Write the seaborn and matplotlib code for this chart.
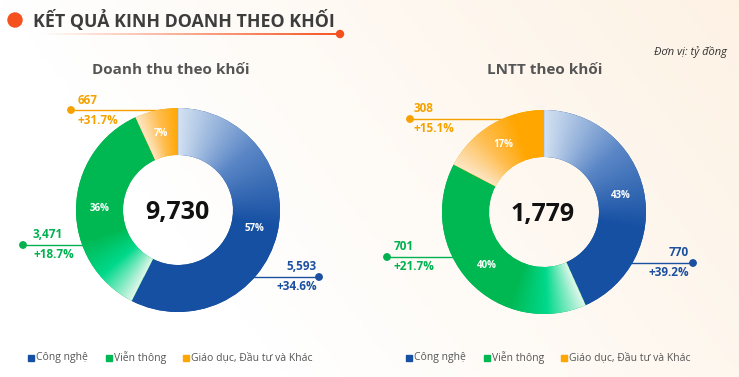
import numpy as np
import matplotlib.pyplot as plt
from matplotlib.patches import Circle, Rectangle
from matplotlib.collections import LineCollection
import seaborn as sns

# data
categories = ["Công nghệ", "Viễn thông", "Giáo dục, Đầu tư và Khác"]
revenue = [5593, 3471, 667]
revenue_share = ["57%", "36%", "7%"]
revenue_growth = ["+34.6%", "+18.7%", "+31.7%"]
revenue_total = 9730
profit = [770, 701, 308]
profit_share = ["43%", "40%", "17%"]
profit_growth = ["+39.2%", "+21.7%", "+15.1%"]
profit_total = 1779

W, H = 739, 377
BLUE, GREEN, ORANGE = "#1a4fa3", "#00b450", "#ffa600"
text_colors = ["#1b4fa0", "#00b14f", "#f5a200"]
grad_stops = [["#d4e2f2", "#5a86c6", "#1650a3"],
              ["#e2f7ec", "#00d98b", "#00b852"],
              ["#fde6c6", "#ffbe52", "#ffa600"]]

sns.set_theme(style="white")
plt.rcParams["font.family"] = ["Open Sans", "DejaVu Sans"]

fig = plt.figure(figsize=(W / 100, H / 100), dpi=100)
ax = fig.add_axes([0, 0, 1, 1])
ax.set_xlim(0, W)
ax.set_ylim(0, H)
ax.axis("off")


def Y(y):
    return H - y


# soft warm background
gx, gy = np.meshgrid(np.linspace(0, 1, 200), np.linspace(1, 0, 100))
w = np.clip(gx * 0.9 + gy * 0.35 - 0.35, 0, 1) * 0.85
bg = np.ones((100, 200, 3))
warm = np.array([253, 238, 220]) / 255
bg = bg * (1 - w[..., None]) + warm * w[..., None]
ax.imshow(bg, extent=[0, W, 0, H], aspect="auto", zorder=0)

# header
ax.add_patch(Circle((15, Y(20)), 7, color="#f4511e", zorder=3))
ax.text(33, Y(20), "KẾT QUẢ KINH DOANH THEO KHỐI", fontsize=12.8, fontweight="bold",
        color="#3d3d3d", va="center", ha="left", zorder=3)
xs = np.linspace(40, 340, 80)
segs = [[(xs[i], Y(34)), (xs[i + 1], Y(34))] for i in range(len(xs) - 1)]
alphas = np.linspace(0.0, 1.0, len(segs))
lc = LineCollection(segs, colors=[(0.96, 0.32, 0.12, a) for a in alphas], linewidths=1.4, zorder=3)
ax.add_collection(lc)
ax.add_patch(Circle((340, Y(34)), 3.5, color="#f4511e", zorder=3))
ax.text(727, Y(52), "Đơn vị: tỷ đồng", fontsize=8, style="italic", color="#333333",
        ha="right", va="center")


def shade_wedge(wedge, stops, ramp):
    cx, cy = wedge.center
    r = wedge.r
    n = 300
    gxs, gys = np.meshgrid(np.linspace(cx - r, cx + r, n), np.linspace(cy - r, cy + r, n))
    ang = (90 - np.degrees(np.arctan2(gys - cy, gxs - cx))) % 360
    start = (90 - wedge.theta2) % 360
    t = np.clip(((ang - start) % 360) / ramp, 0, 1)
    cmap = sns.blend_palette(stops, as_cmap=True)
    im = ax.imshow(cmap(t), extent=[cx - r, cx + r, cy - r, cy + r], origin="lower",
                   aspect="auto", zorder=2, interpolation="bilinear")
    im.set_clip_path(wedge)


def donut(values, shares, growth, total, title, center, title_x, ramps, notes):
    cx, cy = center
    R, r = 102, 55
    wedges, _ = ax.pie(values, startangle=90, counterclock=False, center=(cx, Y(cy)),
                       radius=R, colors=[BLUE, GREEN, ORANGE],
                       wedgeprops=dict(width=R - r, linewidth=0), frame=True)
    for wdg, stops, ramp in zip(wedges, grad_stops, ramps):
        wdg.set_zorder(2)
        shade_wedge(wdg, stops, ramp)
    for wdg, s in zip(wedges, shares):
        mid = np.radians((wdg.theta1 + wdg.theta2) / 2)
        rm = (R + r) / 2
        ax.text(cx + rm * np.cos(mid), Y(cy) + rm * np.sin(mid), s, color="white",
                fontsize=7, fontweight="bold", ha="center", va="center", zorder=4)
    ax.text(cx - 1, Y(cy + 3), f"{total:,}", fontsize=18, fontweight="bold", color="#111111",
            ha="center", va="center", zorder=4)
    ax.text(title_x, Y(70), title, fontsize=11, fontweight="bold", color="#555555",
            ha="center", va="center")
    # leader lines with values
    for (dot_x, ly, line_end, tx, ha), v, g, col in zip(notes, values, growth, text_colors):
        ax.plot([dot_x, line_end], [Y(ly), Y(ly)], color=col, lw=1, zorder=1)
        ax.add_patch(Circle((dot_x, Y(ly)), 3.2, color=col, zorder=1))
        ax.text(tx, Y(ly - 10), f"{v:,}", color=col, fontsize=8.5, fontweight="bold",
                ha=ha, va="center")
        ax.text(tx, Y(ly + 10), g, color=col, fontsize=8.5, fontweight="bold",
                ha=ha, va="center")


donut(revenue, revenue_share, revenue_growth, revenue_total, "Doanh thu theo khối",
      (178, 210), 171, [100, 45, 25],
      [(319, 277, 240, 317, "right"), (23, 245, 110, 33, "left"), (71, 110, 178, 78, "left")])
donut(profit, profit_share, profit_growth, profit_total, "LNTT theo khối",
      (544, 212), 545, [100, 45, 45],
      [(693, 263, 610, 689, "right"), (387, 257, 470, 394, "left"), (410, 119, 520, 414, "left")])

# legends
for x0 in (28, 406):
    for dx, cat, stops in zip([0, 78, 155], categories, grad_stops):
        ax.add_patch(Rectangle((x0 + dx, Y(361)), 6, 6, color=stops[2], zorder=3))
        ax.text(x0 + dx + 8, Y(357.5), cat, fontsize=7.5, color="#555555", ha="left",
                va="center")

ax.set_xlim(0, W)
ax.set_ylim(0, H)
ax.axis("off")
fig.savefig("out.png", dpi=100)
